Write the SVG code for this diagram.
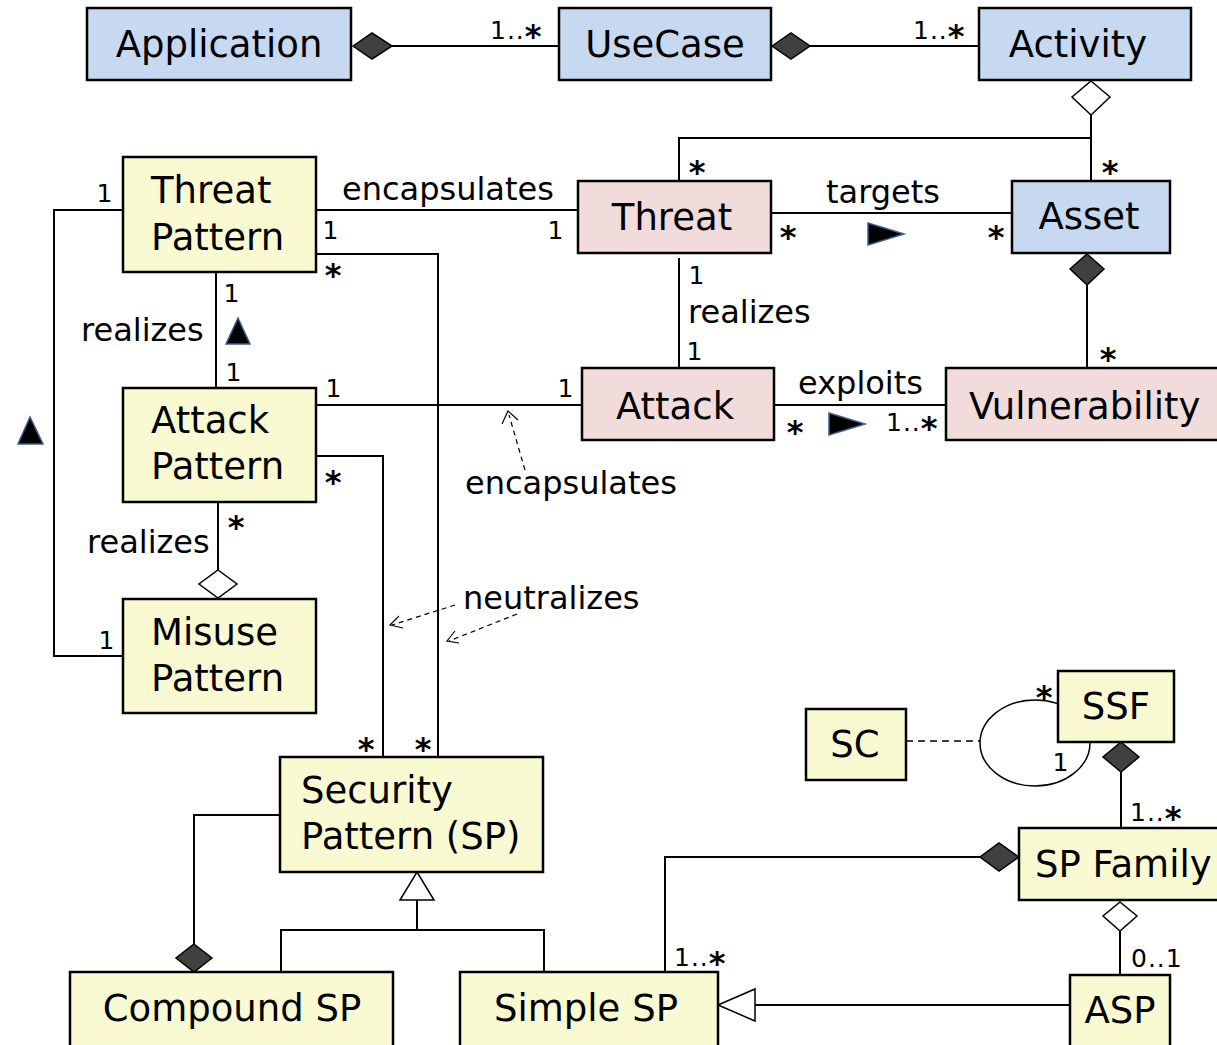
<svg xmlns="http://www.w3.org/2000/svg" width="1217" height="1045" viewBox="0 0 1217 1045">
<style>
.box{stroke:#000;stroke-width:2.5}
.blue{fill:#c6d9f1}.pink{fill:#f2dcdb}.yel{fill:#fafad2}
.t{font-family:"DejaVu Sans",sans-serif;font-size:37px;fill:#000}
.lb{font-family:"DejaVu Sans",sans-serif;font-size:32px;fill:#000}
.m{font-family:"DejaVu Sans",sans-serif;font-size:25px;fill:#000;letter-spacing:1px}
.a{font-family:"DejaVu Sans",sans-serif;font-size:32px;font-weight:bold;fill:#000}
.ln{fill:none;stroke:#000;stroke-width:2}
.dsh{fill:none;stroke:#000;stroke-width:1.2;stroke-dasharray:5,4}
.arr{fill:none;stroke:#000;stroke-width:1.2}
.fd{fill:#404040;stroke:#000;stroke-width:1.5}
.od{fill:#fff;stroke:#000;stroke-width:1.5}
.dir{fill:#000;stroke:#3a5f8f;stroke-width:1.5}
</style>
<g id="connectors">
<polyline class="ln" points="392,46 559,46"/>
<polygon class="fd" points="353,46 372,33 392,46 372,59"/>
<polyline class="ln" points="810,46 979,46"/>
<polygon class="fd" points="772,46 791,33 810,46 791,59"/>
<polyline class="ln" points="1091,115 1091,181"/>
<polyline class="ln" points="1091,138 679,138 679,181"/>
<polygon class="od" points="1091,81 1110,97 1091,115 1072,97"/>
<polyline class="ln" points="316,210 578,210"/>
<polyline class="ln" points="771,213 1012,213"/>
<polygon class="dir" points="868,223 904,234 868,245"/>
<polyline class="ln" points="1087,285 1087,368"/>
<polygon class="fd" points="1087,254 1104,269 1087,285 1070,269"/>
<polyline class="ln" points="679,258 679,368"/>
<polyline class="ln" points="774,405 946,405"/>
<polygon class="dir" points="829,413 865,424 829,435"/>
<polyline class="ln" points="216,272 216,388"/>
<polygon class="dir" points="226,344 238,318 250,344"/>
<polyline class="ln" points="316,405 582,405"/>
<polyline class="dsh" points="525,470 509,415"/>
<polyline class="arr" points="502,424 508,411 518,420"/>
<polyline class="ln" points="316,254 438,254 438,757"/>
<polyline class="ln" points="316,456 383,456 383,757"/>
<polyline class="dsh" points="455,605 392,625"/>
<polyline class="arr" points="399,616 390,625 403,628"/>
<polyline class="dsh" points="517,614 449,641"/>
<polyline class="arr" points="455,631 447,641 459,643"/>
<polyline class="ln" points="123,210 54,210 54,656 123,656"/>
<polygon class="dir" points="18,444 30,417 43,444"/>
<polyline class="ln" points="218,502 218,570"/>
<polygon class="od" points="218,570 237,584 218,598 199,584"/>
<polyline class="ln" points="280,815 194,815 194,944"/>
<polygon class="fd" points="194,944 212,958 194,972 176,958"/>
<polyline class="ln" points="417,900 417,930"/>
<polyline class="ln" points="281,972 281,930 544,930 544,972"/>
<polygon class="od" points="417,872 434,900 400,900"/>
<ellipse cx="1035" cy="743" rx="55" ry="43" fill="none" stroke="#000" stroke-width="1.5"/>
<line class="dsh" x1="906" y1="741" x2="980" y2="741" style="stroke-dasharray:7,5;stroke-width:1.5"/>
<polyline class="ln" points="1121,772 1121,828"/>
<polygon class="fd" points="1121,742 1139,757 1121,772 1103,757"/>
<polyline class="ln" points="980,857 665,857 665,972"/>
<polygon class="fd" points="1019,857 999,843 980,857 999,871"/>
<polyline class="ln" points="1120,931 1120,975"/>
<polygon class="od" points="1120,902 1137,916 1120,931 1103,916"/>
<polyline class="ln" points="1070,1005 755,1005"/>
<polygon class="od" points="718,1005 755,989 755,1021"/>
</g>
<g id="application"><rect class="box blue" x="87" y="8" width="264" height="72"/><text class="t" x="219" y="57" text-anchor="middle">Application</text></g>
<g id="usecase"><rect class="box blue" x="559" y="8" width="212" height="72"/><text class="t" x="665" y="57" text-anchor="middle">UseCase</text></g>
<g id="activity"><rect class="box blue" x="979" y="8" width="212" height="72"/><text class="t" x="1078" y="57" text-anchor="middle">Activity</text></g>
<g id="threat-pattern"><rect class="box yel" x="123" y="157" width="193" height="115"/><text class="t" x="151" y="203">Threat</text><text class="t" x="151" y="250">Pattern</text></g>
<g id="threat"><rect class="box pink" x="578" y="181" width="193" height="72"/><text class="t" x="672" y="230" text-anchor="middle">Threat</text></g>
<g id="asset"><rect class="box blue" x="1012" y="181" width="158" height="72"/><text class="t" x="1089" y="229" text-anchor="middle">Asset</text></g>
<g id="attack-pattern"><rect class="box yel" x="123" y="388" width="193" height="114"/><text class="t" x="151" y="433">Attack</text><text class="t" x="151" y="479">Pattern</text></g>
<g id="attack"><rect class="box pink" x="582" y="368" width="192" height="72"/><text class="t" x="675" y="419" text-anchor="middle">Attack</text></g>
<g id="vulnerability"><rect class="box pink" x="946" y="368" width="275" height="72"/><text class="t" x="969" y="419">Vulnerability</text></g>
<g id="misuse-pattern"><rect class="box yel" x="123" y="599" width="193" height="114"/><text class="t" x="151" y="645">Misuse</text><text class="t" x="151" y="691">Pattern</text></g>
<g id="security-pattern"><rect class="box yel" x="280" y="757" width="263" height="115"/><text class="t" x="301" y="803">Security</text><text class="t" x="301" y="849">Pattern (SP)</text></g>
<g id="compound-sp"><rect class="box yel" x="70" y="972" width="323" height="76"/><text class="t" x="232" y="1021" text-anchor="middle">Compound SP</text></g>
<g id="simple-sp"><rect class="box yel" x="460" y="972" width="258" height="76"/><text class="t" x="586" y="1021" text-anchor="middle">Simple SP</text></g>
<g id="sc"><rect class="box yel" x="806" y="709" width="100" height="71"/><text class="t" x="855" y="757" text-anchor="middle">SC</text></g>
<g id="ssf"><rect class="box yel" x="1058" y="671" width="116" height="71"/><text class="t" x="1116" y="719" text-anchor="middle">SSF</text></g>
<g id="sp-family"><rect class="box yel" x="1019" y="828" width="202" height="72"/><text class="t" x="1035" y="877">SP Family</text></g>
<g id="asp"><rect class="box yel" x="1070" y="975" width="100" height="73"/><text class="t" x="1120" y="1023" text-anchor="middle">ASP</text></g>
<g id="labels">
<text class="lb" x="342" y="200">encapsulates</text>
<text class="lb" x="826" y="203">targets</text>
<text class="lb" x="688" y="323">realizes</text>
<text class="lb" x="798" y="394">exploits</text>
<text class="lb" x="81" y="341">realizes</text>
<text class="lb" x="465" y="494">encapsulates</text>
<text class="lb" x="87" y="553">realizes</text>
<text class="lb" x="463" y="609">neutralizes</text>
</g>
<g id="multiplicities">
<text class="m" x="490" y="39">1..<tspan class="a" dy="8">*</tspan></text>
<text class="m" x="913" y="39">1..<tspan class="a" dy="8">*</tspan></text>
<text class="a" x="697" y="183" text-anchor="middle">*</text>
<text class="a" x="1110" y="183" text-anchor="middle">*</text>
<text class="m" x="105" y="202" text-anchor="middle">1</text>
<text class="m" x="331" y="239" text-anchor="middle">1</text>
<text class="m" x="556" y="239" text-anchor="middle">1</text>
<text class="a" x="788" y="248" text-anchor="middle">*</text>
<text class="a" x="996" y="248" text-anchor="middle">*</text>
<text class="a" x="333" y="286" text-anchor="middle">*</text>
<text class="m" x="697" y="284" text-anchor="middle">1</text>
<text class="m" x="695" y="360" text-anchor="middle">1</text>
<text class="m" x="232" y="302" text-anchor="middle">1</text>
<text class="m" x="234" y="381" text-anchor="middle">1</text>
<text class="a" x="1108" y="370" text-anchor="middle">*</text>
<text class="m" x="334" y="397" text-anchor="middle">1</text>
<text class="m" x="566" y="397" text-anchor="middle">1</text>
<text class="a" x="795" y="443" text-anchor="middle">*</text>
<text class="m" x="886" y="431">1..<tspan class="a" dy="8">*</tspan></text>
<text class="a" x="333" y="493" text-anchor="middle">*</text>
<text class="a" x="236" y="538" text-anchor="middle">*</text>
<text class="m" x="107" y="649" text-anchor="middle">1</text>
<text class="a" x="366" y="760" text-anchor="middle">*</text>
<text class="a" x="423" y="760" text-anchor="middle">*</text>
<text class="a" x="1044" y="708" text-anchor="middle">*</text>
<text class="m" x="1061" y="771" text-anchor="middle">1</text>
<text class="m" x="1130" y="821">1..<tspan class="a" dy="8">*</tspan></text>
<text class="m" x="674" y="966">1..<tspan class="a" dy="8">*</tspan></text>
<text class="m" x="1131" y="967">0..1</text>
</g>
</svg>
